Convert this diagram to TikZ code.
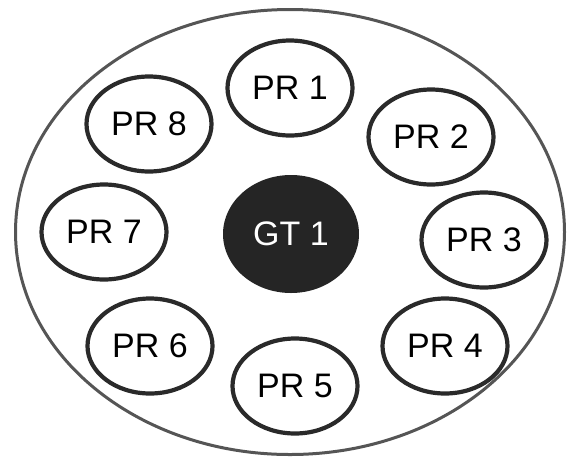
\documentclass[tikz,border=0pt]{standalone}
\usepackage{fontspec}
\setmainfont{Liberation Sans}
\usetikzlibrary{shapes.geometric}

\definecolor{prline}{HTML}{2A2A2A}
\definecolor{fieldline}{HTML}{555555}
\definecolor{gtfill}{HTML}{252525}

\begin{document}
\begin{tikzpicture}[x=1pt, y=-1pt,
    prnode/.style={ellipse, draw=prline, line width=4.2pt, minimum width=125pt, minimum height=95pt, inner sep=0pt, font=\fontsize{34}{34}\selectfont},
    gtnode/.style={ellipse, fill=gtfill, minimum width=136pt, minimum height=118pt, inner sep=0pt, text=white, font=\fontsize{34}{34}\selectfont},
    fieldnode/.style={ellipse, draw=fieldline, line width=3pt, minimum width=549pt, minimum height=445pt}]

    \useasboundingbox (0,0) rectangle (572,469);

    % outer boundary
    \node[fieldnode] (field) at (290,232) {};

    % central node
    \node[gtnode] (gt1) at (291,234) {GT 1};

    % ring of PR nodes
    \node[prnode] (pr1) at (290,88) {PR 1};
    \node[prnode] (pr2) at (431,137) {PR 2};
    \node[prnode] (pr3) at (484,240) {PR 3};
    \node[prnode] (pr4) at (445,346) {PR 4};
    \node[prnode] (pr5) at (295,386) {PR 5};
    \node[prnode] (pr6) at (150,346) {PR 6};
    \node[prnode] (pr7) at (104,232) {PR 7};
    \node[prnode] (pr8) at (149,124) {PR 8};

\end{tikzpicture}
\end{document}
